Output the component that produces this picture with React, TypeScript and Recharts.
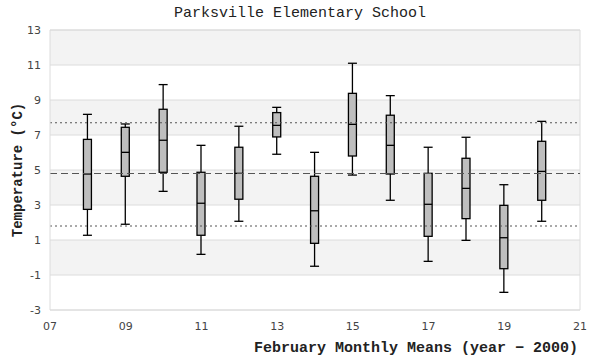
import React from 'react';
import { ComposedChart, Bar, XAxis, YAxis, CartesianGrid, ReferenceLine } from 'recharts';

const years = [8, 9, 10, 11, 12, 13, 14, 15, 16, 17, 18, 19, 20];
const whiskerLow = [1.27, 1.9, 3.78, 0.18, 2.07, 5.9, -0.5, 4.71, 3.27, -0.22, 0.98, -1.99, 2.07];
const q1 = [2.75, 4.64, 4.87, 1.27, 3.33, 6.89, 0.81, 5.8, 4.77, 1.21, 2.22, -0.64, 3.27];
const median = [4.77, 6.01, 6.7, 3.1, 4.81, 7.55, 2.67, 7.61, 6.41, 3.04, 3.95, 1.13, 4.92];
const q3 = [6.75, 7.44, 8.47, 4.87, 6.3, 8.28, 4.64, 9.38, 8.13, 4.81, 5.67, 2.98, 6.64];
const whiskerHigh = [8.18, 7.63, 9.88, 6.41, 7.5, 8.58, 6.01, 11.1, 9.25, 6.3, 6.87, 4.16, 7.78];

const xTicks = [7, 9, 11, 13, 15, 17, 19, 21];
const yTicks = [-3, -1, 1, 3, 5, 7, 9, 11, 13];
const meanLine = 4.8;
const upperLine = 7.7;
const lowerLine = 1.8;

const title = 'Parksville Elementary School';
const xLabel = 'February Monthly Means (year \u2212 2000)';
const yLabel = 'Temperature (\u00b0C)';

const data = years.map((year, i) => ({
  year,
  range: [whiskerLow[i], whiskerHigh[i]],
  lo: whiskerLow[i],
  q1: q1[i],
  med: median[i],
  q3: q3[i],
  hi: whiskerHigh[i],
}));

const BoxShape = (props: any) => {
  const { x, y, width, height, payload } = props;
  if (x == null || y == null || !payload) return null;
  const top = Math.min(y, y + height);
  const h = Math.abs(height);
  const k = h / (payload.hi - payload.lo);
  const py = (v: number) => top + (payload.hi - v) * k;
  const cx = x + width / 2;
  const half = 4.5;
  const yHi = py(payload.hi);
  const yLo = py(payload.lo);
  const yQ3 = py(payload.q3);
  const yQ1 = py(payload.q1);
  const yMed = py(payload.med);
  const s = '#000';
  return (
    <g>
      <line x1={cx} x2={cx} y1={yHi} y2={yQ3} stroke={s} strokeWidth={1.3} />
      <line x1={cx} x2={cx} y1={yQ1} y2={yLo} stroke={s} strokeWidth={1.3} />
      <line x1={cx - half} x2={cx + half} y1={yHi} y2={yHi} stroke={s} strokeWidth={1.3} />
      <line x1={cx - half} x2={cx + half} y1={yLo} y2={yLo} stroke={s} strokeWidth={1.3} />
      <rect x={cx - 4} y={yQ3} width={8} height={yQ1 - yQ3} fill="#bebebe" stroke={s} strokeWidth={1.3} />
      <line x1={cx - 4} x2={cx + 4} y1={yMed} y2={yMed} stroke={s} strokeWidth={1.3} />
    </g>
  );
};

const mono = '"Liberation Mono", "DejaVu Sans Mono", monospace';
const sans = '"DejaVu Sans", Verdana, sans-serif';

export default function App() {
  return (
    <div style={{ position: 'absolute', left: 0, top: 0, width: 600, height: 360, background: '#fff' }}>
      <div
        style={{
          position: 'absolute',
          left: 0,
          top: 5,
          width: 600,
          textAlign: 'center',
          fontFamily: mono,
          fontSize: 15,
          color: '#222',
          lineHeight: '18px',
        }}
      >
        {title}
      </div>
      <ComposedChart
        width={600}
        height={360}
        data={data}
        margin={{ top: 30, right: 20, bottom: 20, left: 0 }}
      >
        <CartesianGrid
          vertical={false}
          stroke="#dcdcdc"
          strokeWidth={1}
          horizontalFill={['#f3f3f3', '#ffffff']}
          fillOpacity={1}
        />
        <XAxis
          dataKey="year"
          type="number"
          domain={[7, 21]}
          ticks={xTicks}
          interval={0}
          allowDataOverflow
          height={30}
          tickFormatter={(v: number) => String(v).padStart(2, '0')}
          axisLine={{ stroke: '#dcdcdc' }}
          tickLine={false}
          tick={{ fill: '#444', fontSize: 11, fontFamily: sans }}
          tickMargin={6}
          label={{
            content: (p: any) => {
              const vb = p.viewBox;
              return (
                <text
                  x={vb.x + vb.width - 2}
                  y={vb.y + 42}
                  textAnchor="end"
                  fontFamily={mono}
                  fontSize={15}
                  fontWeight="bold"
                  fill="#222"
                >
                  {xLabel}
                </text>
              );
            },
          }}
        />
        <YAxis
          type="number"
          domain={[-3, 13]}
          ticks={yTicks}
          interval={0}
          allowDataOverflow
          width={50}
          axisLine={{ stroke: '#dcdcdc' }}
          tickLine={false}
          tick={{ fill: '#444', fontSize: 11, fontFamily: sans }}
          tickMargin={3}
          label={{
            content: (p: any) => {
              const vb = p.viewBox;
              const cx = vb.x + 18;
              const cy = vb.y + vb.height / 2;
              return (
                <text
                  x={cx}
                  y={cy}
                  textAnchor="middle"
                  dominantBaseline="central"
                  transform={`rotate(-90 ${cx} ${cy})`}
                  fontFamily={mono}
                  fontSize={14}
                  fontWeight="bold"
                  fill="#222"
                >
                  {yLabel}
                </text>
              );
            },
          }}
        />
        <ReferenceLine x={21} stroke="#dcdcdc" />
        <ReferenceLine y={13} stroke="#dcdcdc" />
        <ReferenceLine y={upperLine} stroke="#555" strokeDasharray="2 3" />
        <ReferenceLine y={meanLine} stroke="#555" strokeDasharray="7 4" />
        <ReferenceLine y={lowerLine} stroke="#555" strokeDasharray="2 3" />
        <Bar dataKey="range" barSize={9} shape={<BoxShape />} isAnimationActive={false} />
      </ComposedChart>
    </div>
  );
}
